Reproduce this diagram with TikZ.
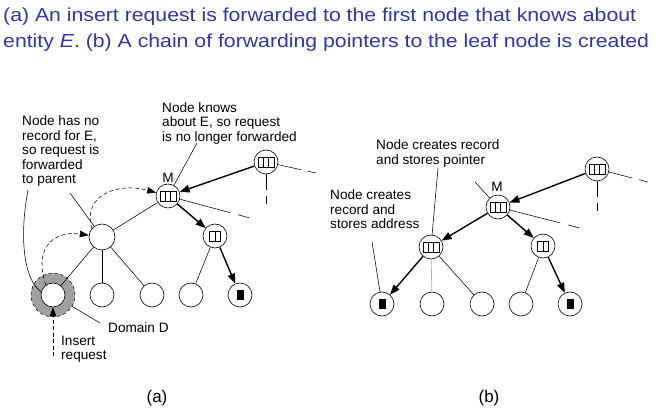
\documentclass[tikz,border=0pt]{standalone}
\usepackage{fontspec}
\setmainfont{Liberation Sans}
\newfontfamily\titlefont[FakeStretch=1.13]{Liberation Sans}
\usetikzlibrary{arrows.meta}
\definecolor{titleblue}{RGB}{51,51,178}
\definecolor{ringgray}{RGB}{160,160,160}
\definecolor{linegray}{RGB}{175,175,175}
\newcommand\rsThree[1]{\draw[cellst,shift={(#1.center)}] (-8,-5) rectangle (8,5) (-2.7,-5)--(-2.7,5) (2.7,-5)--(2.7,5);}
\newcommand\rsTwo[1]{\draw[cellst,shift={(#1.center)}] (-5.5,-5) rectangle (5.5,5) (0,-5)--(0,5);}
\newcommand\rsBlack[1]{\fill[shift={(#1.center)}] (-3.5,-5) rectangle (3.5,5);}
\begin{document}
\begin{tikzpicture}[x=1pt,y=-1pt,
 nd/.style={circle,draw,line width=0.6pt,minimum size=24pt,inner sep=0pt,fill=white},
 thn/.style={line width=0.55pt},
 thk/.style={line width=1.4pt,-{Triangle[length=10pt,width=7.5pt]}},
 dsh/.style={line width=0.55pt,dash pattern=on 4pt off 2.5pt,-{Triangle[length=9pt,width=6.5pt]}},
 ann/.style={font=\fontsize{13.6}{14.5}\selectfont,align=left,inner sep=0pt},
 cellst/.style={line width=0.6pt},
]
\fill[white] (0,0) rectangle (660,411);
\useasboundingbox (0,0) rectangle (660,411);

% title
\node[font=\titlefont\fontsize{18.8}{26}\selectfont, text=titleblue, align=left, inner sep=0pt, anchor=north west] (title) at (3,7.3)
 {(a) An insert request is forwarded to the first node that knows about\\entity \textit{E}. (b) A chain of forwarding pointers to the leaf node is created};

% ---------------- (a) ----------------
\node[circle,draw,dashed,line width=0.5pt,fill=ringgray,minimum size=44pt,inner sep=0pt] (dom) at (53,295) {};
\node[nd] (tr1) at (266,162) {};
\node[nd] (m1) at (168,196) {};
\node[nd,minimum size=26pt] (ml1) at (102,237) {};
\node[nd] (mr1) at (215,236) {};
\node[nd] (l1) at (53,295) {};
\node[nd] (l2) at (102,295) {};
\node[nd] (l3) at (152,295) {};
\node[nd] (l4) at (191,295) {};
\node[nd] (l5) at (240,295) {};
\rsThree{tr1}
\rsThree{m1}
\rsTwo{mr1}
\rsBlack{l5}

\draw[thk] (tr1) -- (m1);
\draw[thn] (m1) -- (ml1);
\draw[thk] (m1) -- (mr1);
\draw[thn] (ml1) -- (l1);
\draw[thn] (ml1) -- (l2);
\draw[thn] (ml1) -- (l3);
\draw[thn] (mr1) -- (l4);
\draw[thk] (mr1) -- (l5);
\coordinate (tr1e) at (316,173);
\coordinate (tr1s) at (266,205);
\coordinate (m1e) at (250,218);
\draw[thn,dash pattern=on 24pt off 6pt on 9pt off 100pt] (tr1) -- (tr1e);
\draw[thn,dash pattern=on 16pt off 6pt on 8pt off 100pt] (tr1) -- (tr1s);
\draw[thn,dash pattern=on 52pt off 8pt on 12pt off 100pt] (m1) -- (m1e);

\draw[dsh] (l1.125) .. controls (34,252) and (50,230) .. (ml1);
\draw[dsh] (ml1.140) .. controls (82,195) and (118,182) .. (m1);

\node[ann,anchor=north west] (t1) at (22,115.5) {Node has no\\record for E,\\so request is\\forwarded\\to parent};
\node[ann,anchor=north west] (t2) at (162,102) {Node knows\\about E, so request\\is no longer forwarded};
\node[ann] (mlab1) at (168,177.5) {M};
\node[ann,anchor=base west] (t3) at (108,332) {Domain D};
\node[ann,anchor=north west] (t4) at (61,335.5) {Insert\\request};

\coordinate (a1) at (28,190);
\coordinate (a2) at (70,193);
\coordinate (a3) at (197,143);
\coordinate (a4) at (100,323);
\coordinate (ins) at (53,356);
\draw[thn] (a1) .. controls (20,232) and (22,278) .. (l1.165);
\draw[thn] (a2) -- (ml1);
\draw[thn] (a3) -- (m1);
\draw[thn] (a4) -- (dom);
\draw[dsh] (ins) -- (l1);

% ---------------- (b) ----------------
\node[nd] (tr2) at (597,169) {};
\node[nd] (m2) at (498,207) {};
\node[nd] (ml2) at (431,247) {};
\node[nd] (mr2) at (543,246) {};
\node[nd] (r1) at (382,304) {};
\node[nd] (r2) at (432,304) {};
\node[nd] (r3) at (482,304) {};
\node[nd] (r4) at (521,304) {};
\node[nd] (r5) at (570,304) {};
\rsThree{tr2}
\rsThree{m2}
\rsThree{ml2}
\rsTwo{mr2}
\rsBlack{r1}
\rsBlack{r5}

\draw[thk] (tr2) -- (m2);
\draw[thk] (m2) -- (ml2);
\draw[thk] (m2) -- (mr2);
\draw[thk] (ml2) -- (r1);
\draw[line width=0.7pt,linegray] (ml2) -- (r2);
\draw[thn] (ml2) -- (r3);
\draw[thn] (mr2) -- (r4);
\draw[thk] (mr2) -- (r5);
\coordinate (tr2e) at (648,182);
\coordinate (tr2s) at (597,212);
\coordinate (m2e) at (580,228);
\draw[thn,dash pattern=on 24pt off 7pt on 9pt off 100pt] (tr2) -- (tr2e);
\draw[thn,dash pattern=on 16pt off 6pt on 8pt off 100pt] (tr2) -- (tr2s);
\draw[thn,dash pattern=on 52pt off 8pt on 12pt off 100pt] (m2) -- (m2e);

\node[ann,anchor=north west] (t5) at (376,139.7) {Node creates record\\and stores pointer};
\node[ann,anchor=north west] (t6) at (330,189.5) {Node creates\\record and\\stores address};
\node[ann] (mlab2) at (497,187) {M};
\coordinate (b1) at (438,168);
\coordinate (b2) at (475,182);
\coordinate (b3) at (372,242);
\draw[thn] (b1) -- (ml2);
\draw[thn] (b2) -- (m2);
\draw[thn] (b3) -- (r1);

% captions
\node[font=\fontsize{17}{20}\selectfont,inner sep=0pt] (ca) at (157,398) {(a)};
\node[font=\fontsize{17}{20}\selectfont,inner sep=0pt] (cb) at (489,398) {(b)};
\end{tikzpicture}
\end{document}
